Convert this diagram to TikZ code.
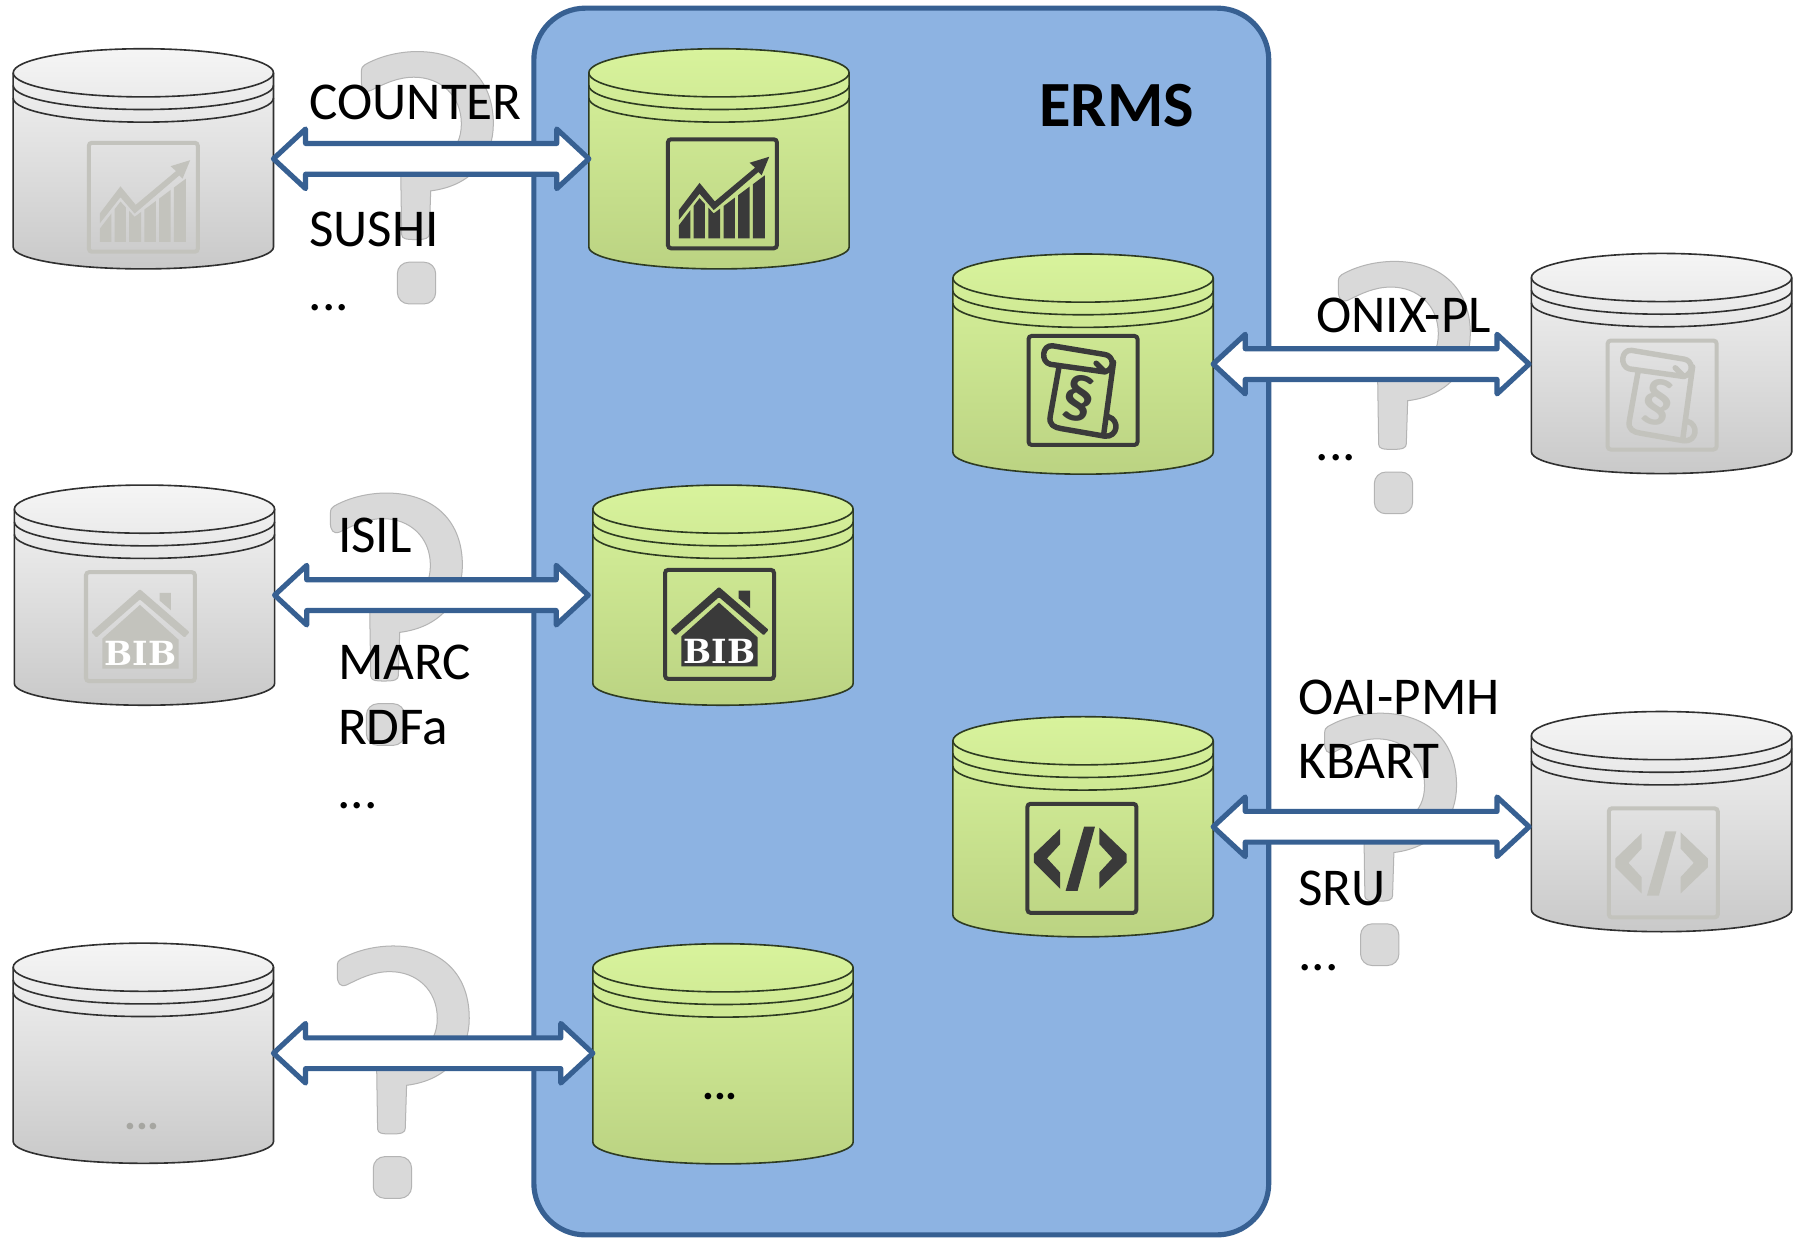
\documentclass[tikz,border=0pt]{standalone}
\usepackage{fontspec}
\setmainfont{Carlito}
\usetikzlibrary{calc}
\definecolor{ermsfill}{HTML}{8DB3E2}
\definecolor{ermsline}{HTML}{376092}
\definecolor{qmark}{HTML}{D9D9D9}
\definecolor{qline}{HTML}{B4B4B4}
\definecolor{darkicon}{HTML}{3A3A3A}
\definecolor{grayicon}{HTML}{C3C3BD}
\definecolor{cylgreentop}{HTML}{D8F39C}
\definecolor{cylgreenbot}{HTML}{BBD382}
\definecolor{cylgraytop}{HTML}{F5F5F5}
\definecolor{cylgraybot}{HTML}{C9C9C9}
\definecolor{cylgreenline}{HTML}{2E3B22}
\definecolor{cylgrayline}{HTML}{303030}
\tikzset{
  cylbox/.style={minimum width=4.54cm,minimum height=3.84cm,inner sep=0pt,outer sep=0pt},
  greencyl/.style={top color=cylgreentop,bottom color=cylgreenbot},
  graycyl/.style={top color=cylgraytop,bottom color=cylgraybot},
  label/.style={anchor=base west,inner sep=0pt,font=\fontsize{26.4}{30}\selectfont,text=black},
  qshape/.style={fill=qmark,draw=qline,line width=0.5pt},
  blockarrow/.style={draw=ermsline,fill=white,line width=0.09cm,line join=round},
}
% name, cx, cy, shade style, line colour
\newcommand\dbcyl[5]{%
  \node[cylbox] (#1) at (#2,#3) {};
  \begin{scope}[shift={(#1.center)}]
    \path[#4,draw=#5,line width=0.8pt] (-113.5,-75) .. controls (-113.5,-86.6) and (-63,-96) .. (0,-96)
      .. controls (63,-96) and (113.5,-86.6) .. (113.5,-75) -- (113.5,77)
      .. controls (113.5,87.5) and (63,96) .. (0,96)
      .. controls (-63,96) and (-113.5,87.5) .. (-113.5,77) -- cycle;
    \foreach \o in {0,11,22}{
      \draw[#5,line width=0.8pt] (-113.5,-75+\o) .. controls (-113.5,-63.4+\o) and (-63,-54+\o) .. (0,-54+\o)
        .. controls (63,-54+\o) and (113.5,-63.4+\o) .. (113.5,-75+\o);
    }
  \end{scope}}
\newcommand\iconframe[1]{\draw[#1,line width=0.07cm,rounded corners=1.5pt] (0,0) rectangle (100,100);}
\newcommand\charticon[3]{%
  \begin{scope}[shift={(#1,#2)},scale=0.95]
    \iconframe{#3}
    \begin{scope}
      \clip (10,91) -- (10,79) -- (29,54) -- (42,68) -- (89,33) -- (89,91) -- cycle;
      \fill[#3] (10,20) rectangle (20.6,91) (23.6,20) rectangle (34,91) (37,20) rectangle (48,91)
        (51,20) rectangle (61.5,91) (64.5,20) rectangle (75,91) (78,20) rectangle (89,91);
    \end{scope}
    \fill[#3] (10,65) -- (29,40) -- (43,57) -- (80,26) -- (75,21.5) -- (93,16) -- (86,33) -- (83,30) -- (42,65) -- (29,50) -- (10,74) -- cycle;
  \end{scope}}
\newcommand\scrollicon[3]{%
  \begin{scope}[shift={(#1,#2)},scale=0.95]
    \iconframe{#3}
    \draw[#3,line width=0.095cm,line join=round,line cap=round]
      (22,9) -- (70,17) .. controls (78,18) and (80,30) .. (70,33) -- (20,26)
      .. controls (11,24) and (12,8) .. (22,9)
      (28,28) -- (20,73) .. controls (18,82) and (24,84) .. (30,85) -- (70,92)
      .. controls (82,93) and (84,77) .. (73,74) (70,33) -- (62,25)
      (78,24) -- (69,90);
    \node[rotate=-12,inner sep=0pt,text=#3,font=\fontsize{31}{31}\bfseries\selectfont] (#1sect) at (46,57) {§};
  \end{scope}}
\newcommand\bibicon[3]{%
  \begin{scope}[shift={(#1,#2)},scale=0.95]
    \iconframe{#3}
    \fill[#3,rounded corners=0.5pt] (49.5,15.6) -- (95,55) -- (90.5,60) -- (49.5,25) -- (9.5,60) -- (5,55) -- cycle;
    \fill[#3] (67.5,19) -- (78,19) -- (78,35) -- (67.5,26) -- cycle;
    \fill[#3] (49.5,30) -- (85,62) -- (85,88.5) -- (15,88.5) -- (15,61) -- cycle;
    \node[inner sep=0pt,text=white,font={\fontspec{DejaVu Serif Bold}\fontsize{16.5}{18}\selectfont}] (#1bib) at (50,74.5) {BIB};
  \end{scope}}
\newcommand\codeicon[3]{%
  \begin{scope}[shift={(#1,#2)},scale=0.95]
    \iconframe{#3}
    \fill[#3] (30,23) -- (30,37) -- (18,50) -- (30,63) -- (30,78) -- (6,54) -- (6,46) -- cycle;
    \fill[#3] (66,22) -- (91,46) -- (91,54) -- (66,78) -- (66,63) -- (78,50) -- (66,37) -- cycle;
    \fill[#3] (52,21) -- (62,21) -- (46,80) -- (35,80) -- cycle;
  \end{scope}}
% from, to, offset of the right tip
\newcommand\blockarrow[3]{%
  \draw[blockarrow] (#1.east) -- ++(28,-26) -- ++(0,12.6) -- ($(#1.east -| #2.west)+(#3-28,-13.4)$)
    -- ++(0,-12.6) -- ($(#1.east -| #2.west)+(#3,0)$) -- ++(-28,26) -- ++(0,-12.6)
    -- ($(#1.east)+(28,13.4)$) -- ++(0,12.6) -- cycle;}
% grey question-mark watermark, placed by its crop origin
\newcommand\qm[2]{%
  \begin{scope}[shift={(#1,#2)},scale=0.2907]
    \path[qshape] (52,110) .. controls (52,98) and (56,90) .. (62,88)
      .. controls (110,60) and (170,48) .. (220,48)
      .. controls (350,48) and (448,120) .. (448,265)
      .. controls (448,360) and (390,450) .. (260,466)
      -- (256,595) .. controls (256,608) and (245,612) .. (215,612)
      .. controls (185,612) and (174,610) .. (173,597)
      -- (170,400) .. controls (290,395) and (352,350) .. (352,265)
      .. controls (352,180) and (290,125) .. (210,125)
      .. controls (160,125) and (120,145) .. (80,165)
      .. controls (60,172) and (52,160) .. (52,135) -- cycle;
    \path[qshape,rounded corners=0.2cm] (160,680) rectangle (275,805);
  \end{scope}}
\begin{document}
\begin{tikzpicture}[x=0.02cm,y=-0.02cm]
\useasboundingbox (0,0) rectangle (1568,1080.5);
\fill[white] (0,0) rectangle (1568,1080.5);
\node[draw=ermsline,fill=ermsfill,line width=0.09cm,rounded corners=0.9cm,minimum width=12.82cm,minimum height=21.4cm,inner sep=0pt] (erms) at (786,542) {};
\qm{300}{31}
\qm{273}{416}
\qm{279}{811}
\qm{1152}{214}
\qm{1140}{608}
\dbcyl{gA}{125}{138.5}{graycyl}{cylgrayline}
\dbcyl{gB}{126}{519}{graycyl}{cylgrayline}
\dbcyl{gC}{125}{918.5}{graycyl}{cylgrayline}
\dbcyl{gD}{1449}{317}{graycyl}{cylgrayline}
\dbcyl{gE}{1449}{716.5}{graycyl}{cylgrayline}
\dbcyl{cA}{627}{138.5}{greencyl}{cylgreenline}
\dbcyl{cD}{944.5}{317.5}{greencyl}{cylgreenline}
\dbcyl{cB}{630.5}{519}{greencyl}{cylgreenline}
\dbcyl{cE}{944.5}{721}{greencyl}{cylgreenline}
\dbcyl{cC}{630.5}{919}{greencyl}{cylgreenline}
\charticon{582.5}{121.5}{darkicon}
\charticon{77.5}{124.5}{grayicon}
\scrollicon{897}{293}{darkicon}
\scrollicon{1402}{297}{grayicon}
\bibicon{580}{497}{darkicon}
\bibicon{75}{499}{grayicon}
\codeicon{896}{701}{darkicon}
\codeicon{1403}{705}{grayicon}
\blockarrow{gA}{cA}{0}
\blockarrow{gB}{cB}{-4}
\blockarrow{gC}{cC}{0}
\blockarrow{cD}{gD}{-2}
\blockarrow{cE}{gE}{-2}
\node[label] (t1) at (269.5,104) {COUNTER};
\node[label] (t2) at (269.5,215) {SUSHI};
\node[label] (t3) at (269,271) {...};
\node[label] (t4) at (1147.5,290) {ONIX-PL};
\node[label] (t5) at (1147,402) {...};
\node[label] (t6) at (294.5,482) {ISIL};
\node[label] (t7) at (294.5,593) {MARC};
\node[label] (t8) at (294.5,649) {RDFa};
\node[label] (t9) at (294,705) {...};
\node[label] (t10) at (1132,623) {OAI-PMH};
\node[label] (t11) at (1132,679) {KBART};
\node[label] (t12) at (1132,790) {SRU};
\node[label] (t13) at (1132,846) {...};
\node[label,font=\fontsize{32}{36}\bfseries\selectfont] (t14) at (906,110) {ERMS};
\node[label,font=\fontsize{22}{30}\bfseries\selectfont] (t15) at (612,959) {...};
\node[label,font=\fontsize{22}{30}\bfseries\selectfont,text=grayicon!85!black] (t16) at (108,985) {...};
\end{tikzpicture}
\end{document}
